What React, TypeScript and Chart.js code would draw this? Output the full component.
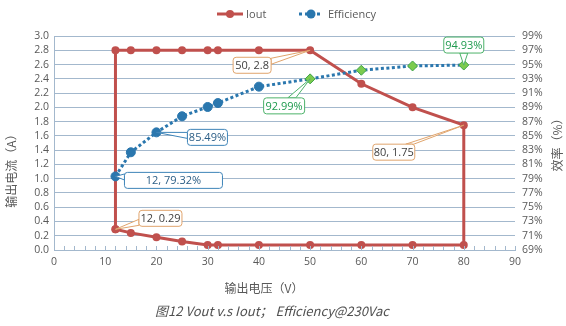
import React, { useEffect, useRef } from "react";
import { Chart, registerables } from "chart.js";

Chart.register(...registerables);

// ---------- data ----------
const ioutVoltage = [12, 12, 15, 20, 25, 30, 32, 40, 50, 60, 70, 80, 80, 70, 60, 50, 40, 32, 30, 25, 20, 15, 12];
const ioutValues = [0.29, 2.8, 2.8, 2.8, 2.8, 2.8, 2.8, 2.8, 2.8, 2.33, 2.0, 1.75, 0.07, 0.07, 0.07, 0.07, 0.07, 0.07, 0.07, 0.12, 0.18, 0.24, 0.29];
const effVoltage = [12, 15, 20, 25, 30, 32, 40, 50, 60, 70, 80];
const effValues = [79.32, 82.7, 85.49, 87.75, 89.05, 89.6, 91.9, 92.99, 94.2, 94.8, 94.93];
const effHighlighted = [false, false, false, false, false, false, false, true, true, true, true];

const seriesNames = ["Iout", "Efficiency"];
const xTitle = "输出电压（V）";
const yTitle = "输出电流（A）";
const y1Title = "效率（%）";
const caption = "图12 Vout v.s Iout； Efficiency@230Vac";

// callouts: dataset index, point index, text, box offset from point, box width, theme
const callouts = [
  { ds: 0, i: 8, text: "50, 2.8", dx: -58, dy: 15, w: 38, theme: "orange" },
  { ds: 0, i: 11, text: "80, 1.75", dx: -70, dy: 27, w: 42, theme: "orange" },
  { ds: 0, i: 0, text: "12, 0.29", dx: 45, dy: -11, w: 43, theme: "orange" },
  { ds: 1, i: 0, text: "12, 79.32%", dx: 58, dy: 4, w: 98, theme: "blue" },
  { ds: 1, i: 2, text: "85.49%", dx: 51, dy: 5, w: 40, theme: "blue" },
  { ds: 1, i: 7, text: "92.99%", dx: -26, dy: 27, w: 41, theme: "green" },
  { ds: 1, i: 10, text: "94.93%", dx: 0, dy: -20, w: 40, theme: "green" },
];

const RED = "#C0504D";
const BLUE = "#2A77AE";
const GREEN_FILL = "#7CCB4E";
const GREEN_LINE = "#3FA34A";
const GRID = "#A3B8CD";
const TEXT = "#595959";
const FONT = "'Open Sans', 'Noto Sans', sans-serif";
const CJK = "'Noto Sans CJK SC', 'Noto Sans', sans-serif";

const themes: Record<string, { stroke: string; text: string }> = {
  orange: { stroke: "#E0A46C", text: "#404040" },
  blue: { stroke: "#3E84B8", text: "#2B5E86" },
  green: { stroke: "#4DB26A", text: "#1E9A4E" },
};

function roundRect(ctx: CanvasRenderingContext2D, x: number, y: number, w: number, h: number, r: number) {
  ctx.beginPath();
  ctx.moveTo(x + r, y);
  ctx.lineTo(x + w - r, y);
  ctx.arcTo(x + w, y, x + w, y + r, r);
  ctx.lineTo(x + w, y + h - r);
  ctx.arcTo(x + w, y + h, x + w - r, y + h, r);
  ctx.lineTo(x + r, y + h);
  ctx.arcTo(x, y + h, x, y + h - r, r);
  ctx.lineTo(x, y + r);
  ctx.arcTo(x, y, x + r, y, r);
  ctx.closePath();
}

function drawCallout(ctx: CanvasRenderingContext2D, px: number, py: number, c: any) {
  const th = themes[c.theme];
  const h = 16;
  const cx = px + c.dx;
  const cy = py + c.dy;
  const w = c.w;
  const x0 = cx - w / 2;
  const y0 = cy - h / 2;
  const dx = px - cx;
  const dy = py - cy;
  const tx = dx !== 0 ? w / 2 / Math.abs(dx) : Infinity;
  const ty = dy !== 0 ? h / 2 / Math.abs(dy) : Infinity;
  const t = Math.min(tx, ty);
  let bx = cx + dx * t;
  let by = cy + dy * t;
  let b1: number[], b2: number[];
  if (tx < ty) {
    by = Math.max(y0 + 4, Math.min(y0 + h - 4, by));
    b1 = [bx, by - 3];
    b2 = [bx, by + 3];
  } else {
    bx = Math.max(x0 + 5, Math.min(x0 + w - 5, bx));
    b1 = [bx - 4, by];
    b2 = [bx + 4, by];
  }
  ctx.save();
  ctx.lineWidth = 1;
  ctx.strokeStyle = th.stroke;
  ctx.fillStyle = "#ffffff";
  ctx.beginPath();
  ctx.moveTo(px, py);
  ctx.lineTo(b1[0], b1[1]);
  ctx.lineTo(b2[0], b2[1]);
  ctx.closePath();
  ctx.fill();
  ctx.stroke();
  roundRect(ctx, x0, y0, w, h, 3);
  ctx.fill();
  ctx.stroke();
  ctx.fillStyle = th.text;
  ctx.font = `11px ${FONT}`;
  ctx.textAlign = "center";
  ctx.textBaseline = "middle";
  ctx.fillText(c.text, cx, cy + 0.5);
  ctx.restore();
}

const decorations = {
  id: "decorations",
  afterDatasetsDraw(chart: any) {
    const ctx: CanvasRenderingContext2D = chart.ctx;
    const xs = chart.scales.x;
    const area = chart.chartArea;
    // minor ticks on x axis
    ctx.save();
    ctx.strokeStyle = GRID;
    ctx.lineWidth = 1;
    for (let v = 0; v <= 90; v += 2) {
      const x = Math.round(xs.getPixelForValue(v)) + 0.5;
      ctx.beginPath();
      ctx.moveTo(x, area.bottom);
      ctx.lineTo(x, area.bottom - 4);
      ctx.stroke();
    }
    ctx.restore();
    // callouts
    callouts.forEach((c) => {
      const el = chart.getDatasetMeta(c.ds).data[c.i];
      drawCallout(ctx, el.x, el.y, c);
    });
  },
  afterDraw(chart: any) {
    const ctx: CanvasRenderingContext2D = chart.ctx;
    ctx.save();
    // legend
    const ly = 14;
    ctx.lineWidth = 3;
    ctx.strokeStyle = RED;
    ctx.beginPath();
    ctx.moveTo(217, ly);
    ctx.lineTo(243, ly);
    ctx.stroke();
    ctx.fillStyle = RED;
    ctx.beginPath();
    ctx.arc(230, ly, 4, 0, Math.PI * 2);
    ctx.fill();
    ctx.strokeStyle = BLUE;
    ctx.setLineDash([3, 3]);
    ctx.beginPath();
    ctx.moveTo(299, ly);
    ctx.lineTo(323, ly);
    ctx.stroke();
    ctx.setLineDash([]);
    ctx.fillStyle = BLUE;
    ctx.beginPath();
    ctx.arc(311, ly, 4.5, 0, Math.PI * 2);
    ctx.fill();
    ctx.fillStyle = TEXT;
    ctx.font = `11px ${FONT}`;
    ctx.textAlign = "left";
    ctx.textBaseline = "middle";
    ctx.fillText(seriesNames[0], 246, ly + 1);
    ctx.fillText(seriesNames[1], 328, ly + 1);

    // axis titles
    ctx.font = `12px ${CJK}`;
    ctx.textAlign = "center";
    ctx.textBaseline = "middle";
    ctx.fillText(xTitle, 264, 288);
    ctx.save();
    ctx.translate(11, 168);
    ctx.rotate(-Math.PI / 2);
    ctx.fillText(yTitle, 0, 0);
    ctx.restore();
    ctx.save();
    ctx.translate(557, 142);
    ctx.rotate(-Math.PI / 2);
    ctx.fillText(y1Title, 0, 0);
    ctx.restore();

    // caption
    ctx.font = `italic 13px ${CJK}`;
    ctx.fillStyle = "#505050";
    ctx.fillText(caption, 272, 311);
    ctx.restore();
  },
};

export default function App() {
  const ref = useRef<HTMLCanvasElement | null>(null);

  useEffect(() => {
    if (!ref.current) return;
    const chart = new Chart(ref.current, {
      type: "scatter",
      data: {
        datasets: [
          {
            label: seriesNames[0],
            data: ioutVoltage.map((x, i) => ({ x, y: ioutValues[i] })),
            showLine: true,
            yAxisID: "y",
            borderColor: RED,
            backgroundColor: RED,
            borderWidth: 3,
            pointRadius: 4,
            pointBorderWidth: 0,
            pointBackgroundColor: RED,
            order: 2,
          },
          {
            label: seriesNames[1],
            data: effVoltage.map((x, i) => ({ x, y: effValues[i] })),
            showLine: true,
            yAxisID: "y1",
            borderColor: BLUE,
            borderWidth: 3,
            borderDash: [3, 2.5],
            borderCapStyle: "butt",
            pointStyle: effHighlighted.map((h) => (h ? "rectRot" : "circle")),
            pointRadius: effHighlighted.map((h) => (h ? 5 : 4.5)),
            pointBackgroundColor: effHighlighted.map((h) => (h ? GREEN_FILL : BLUE)),
            pointBorderColor: effHighlighted.map((h) => (h ? GREEN_LINE : BLUE)),
            pointBorderWidth: 1,
            order: 1,
          } as any,
        ],
      },
      options: {
        animation: false,
        responsive: false,
        layout: { padding: { top: 36, left: 0, right: 0, bottom: 0 } },
        plugins: { legend: { display: false }, tooltip: { enabled: false } },
        scales: {
          x: {
            type: "linear",
            min: 0,
            max: 90,
            ticks: { stepSize: 10, autoSkip: false, maxRotation: 0, color: TEXT, font: { family: FONT, size: 10.5 }, padding: 6 },
            grid: { display: false, drawTicks: false },
            border: { display: true, color: GRID },
            afterFit: (s: any) => {
              s.height = 76;
            },
          },
          y: {
            type: "linear",
            position: "left",
            min: 0,
            max: 3,
            ticks: {
              stepSize: 0.2,
              autoSkip: false,
              color: TEXT,
              font: { family: FONT, size: 10.5 },
              padding: 5,
              callback: (v: any) => Number(v).toFixed(1),
            },
            grid: { color: GRID, drawTicks: false },
            border: { display: true, color: GRID },
            afterFit: (s: any) => {
              s.width = 54;
            },
          },
          y1: {
            type: "linear",
            position: "right",
            min: 69,
            max: 99,
            ticks: {
              stepSize: 2,
              autoSkip: false,
              color: TEXT,
              font: { family: FONT, size: 10.5 },
              padding: 7,
              callback: (v: any) => `${v}%`,
            },
            grid: { display: false, drawTicks: false },
            border: { display: false },
            afterFit: (s: any) => {
              s.width = 51;
            },
          },
        },
      },
      plugins: [decorations],
    } as any);
    return () => chart.destroy();
  }, []);

  return (
    <div style={{ position: "fixed", left: 0, top: 0, width: 566, height: 326, background: "#ffffff" }}>
      <canvas ref={ref} width={566} height={326} style={{ width: 566, height: 326 }} />
    </div>
  );
}
